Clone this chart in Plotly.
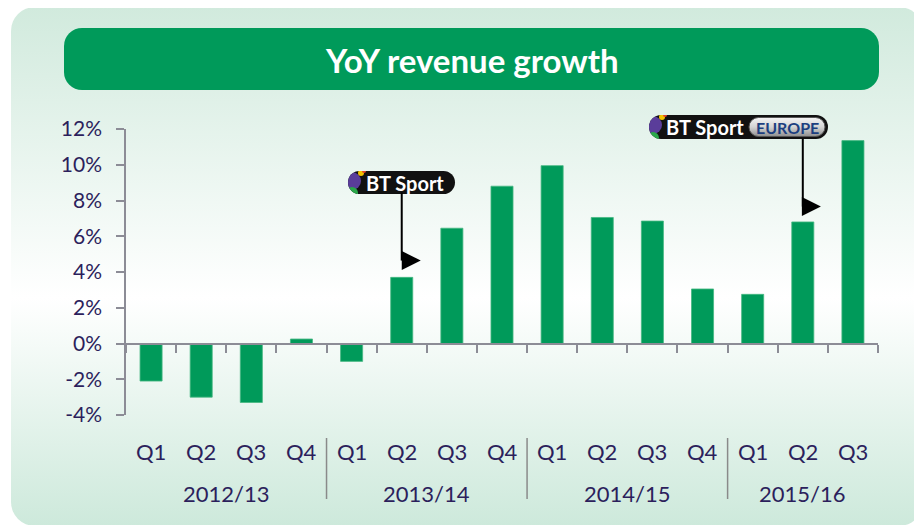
import base64
import plotly.graph_objects as go

# ---------------- data ----------------
quarters = ["Q1", "Q2", "Q3", "Q4", "Q1", "Q2", "Q3", "Q4",
            "Q1", "Q2", "Q3", "Q4", "Q1", "Q2", "Q3"]
years = ["2012/13", "2013/14", "2014/15", "2015/16"]
year_sizes = [4, 4, 4, 3]
growth = [-2.1, -3.0, -3.3, 0.25, -1.0, 3.7, 6.45, 8.8,
          9.95, 7.05, 6.85, 3.05, 2.75, 6.8, 11.35]
y_ticks = [-4, -2, 0, 2, 4, 6, 8, 10, 12]

# ---------------- geometry ----------------
W, H = 922, 525
OFF = 8  # page body margin: screen pixel = figure pixel + OFF
# plot area in screen pixels
SX0, SX1, SY0, SY1 = 126, 878, 129, 415
ML, MT = SX0 - OFF, SY0 - OFF
PW, PH = SX1 - SX0, SY1 - SY0
MR, MB = W - ML - PW, H - MT - PH


def px(x, y):
    """screen pixel -> paper coordinates"""
    return (x - SX0) / PW, (SY1 - y) / PH


GREEN = "#009a5a"
TXT = "#2c1f5c"
GREY = "#8c8c96"
FONT = "Lato"

# ---------------- background (svg, drawn in screen pixels) ----------------
svg = f'''<svg xmlns="http://www.w3.org/2000/svg" width="{W}" height="{H}" viewBox="0 0 {W} {H}">
<defs>
<linearGradient id="g" x1="0" y1="0" x2="0" y2="1">
<stop offset="0" stop-color="#d1eadd"/>
<stop offset="0.56" stop-color="#ffffff"/>
<stop offset="1" stop-color="#cde9db"/>
</linearGradient>
<linearGradient id="s" x1="0" y1="0" x2="0" y2="1">
<stop offset="0" stop-color="#f4f4f4"/>
<stop offset="0.5" stop-color="#d4d4d4"/>
<stop offset="1" stop-color="#8e8e8e"/>
</linearGradient>
<clipPath id="c1"><rect x="348" y="171" width="107" height="23" rx="11.5"/></clipPath>
<clipPath id="c2"><rect x="649" y="115" width="179" height="24" rx="12"/></clipPath>
</defs>
<g transform="translate({-OFF},{-OFF})">
<rect x="11" y="7" width="912" height="519" rx="24" fill="url(#g)"/>
<rect x="64" y="28" width="815" height="62" rx="18" fill="{GREEN}"/>
<rect x="348" y="171" width="107" height="23" rx="11.5" fill="#111"/>
<g clip-path="url(#c1)">
<circle cx="352" cy="181" r="9" fill="#5a3d9a"/>
<circle cx="361" cy="173" r="3" fill="#f2c200"/>
<circle cx="352" cy="193" r="6" fill="#2aa84a"/>
<circle cx="364" cy="171" r="2" fill="#e2452b"/>
</g>
<rect x="649" y="115" width="179" height="24" rx="12" fill="#111"/>
<g clip-path="url(#c2)">
<circle cx="653" cy="125" r="9" fill="#5a3d9a"/>
<circle cx="662" cy="117" r="3" fill="#f2c200"/>
<circle cx="653" cy="138" r="6" fill="#2aa84a"/>
<circle cx="665" cy="115" r="2" fill="#e2452b"/>
</g>
<rect x="749" y="117.5" width="76" height="19" rx="9.5" fill="url(#s)" stroke="#555" stroke-width="1"/>
</g>
</svg>'''
src = "data:image/svg+xml;base64," + base64.b64encode(svg.encode()).decode()

x_idx = list(range(len(growth)))

fig = go.Figure()
fig.add_trace(go.Bar(
    x=x_idx, y=growth,
    marker=dict(color=GREEN, line=dict(color="#45b882", width=0.8)),
    hoverinfo="skip",
))

x0, y0 = -ML / PW, (PH + MT) / PH
fig.add_layout_image(dict(
    source=src, xref="paper", yref="paper",
    x=x0, y=y0, sizex=W / PW, sizey=H / PH,
    xanchor="left", yanchor="top", sizing="stretch", layer="below",
))


def label(text, x, y, xref="paper", size=22, color=TXT):
    return dict(text=text, x=x, y=y, xref=xref, yref="paper", showarrow=False,
                xanchor="center", yanchor="middle",
                font=dict(family=FONT, size=size, color=color))


annotations = []
# title
tx, ty = px(472, 60)
annotations.append(label("<b>YoY revenue growth</b>", tx, ty, size=33, color="white"))
# quarter labels
qy = px(0, 451)[1]
for i, q in enumerate(quarters):
    annotations.append(label(q, i, qy, xref="x"))
# year labels and dividers
shapes = []
yy = px(0, 493)[1]
start = 0
for k, (yr, n) in enumerate(zip(years, year_sizes)):
    annotations.append(label(yr, start + (n - 1) / 2, yy, xref="x"))
    if k > 0:
        shapes.append(dict(type="line", xref="x", yref="paper", x0=start - 0.5, x1=start - 0.5,
                           y0=px(0, 438)[1], y1=px(0, 499)[1],
                           line=dict(color="#8a8a8a", width=1.5)))
    start += n

# badge texts
bx, by = px(405, 182.5)
annotations.append(label("<b>BT Sport</b>", bx, by, size=20, color="white"))
bx, by = px(705, 127)
annotations.append(label("<b>BT Sport</b>", bx, by, size=20, color="white"))
bx, by = px(787, 127.5)
annotations.append(label("<b>EUROPE</b>", bx, by, size=16, color="#1d3f80"))

# arrows: (bar index, top y of line in %, elbow y in %, tip offset)
arrows = [(5, 8.45, 4.64, 0.38), (13, 11.47, 7.66, 0.36)]
for xi, ytop, yel, dx in arrows:
    shapes.append(dict(type="line", xref="x", yref="y", x0=xi, x1=xi, y0=ytop, y1=yel,
                       line=dict(color="black", width=2)))
    annotations.append(dict(x=xi + dx, y=yel, ax=xi - 0.01, ay=yel, xref="x", yref="y",
                            axref="x", ayref="y", text="", showarrow=True,
                            arrowhead=2, arrowsize=1.9, arrowwidth=2, arrowcolor="black"))

fig.update_layout(
    width=W, height=H,
    margin=dict(l=ML, r=MR, t=MT, b=MB, pad=0),
    paper_bgcolor="white", plot_bgcolor="rgba(0,0,0,0)",
    showlegend=False, bargap=0.56,
    annotations=annotations, shapes=shapes,
    xaxis=dict(range=[-0.5, len(growth) - 0.5], anchor="free", position=0.25,
               showline=True, linecolor=GREY, linewidth=2,
               tickmode="array", tickvals=[i - 0.5 for i in range(len(growth) + 1)],
               ticks="outside", ticklen=8, tickwidth=1.5, tickcolor=GREY,
               showticklabels=False, showgrid=False, zeroline=False, fixedrange=True),
    yaxis=dict(range=[-4, 12], tickmode="array", tickvals=y_ticks,
               ticktext=[f"{v}%" for v in y_ticks],
               showline=True, linecolor=GREY, linewidth=1.5,
               ticks="outside", ticklen=8, tickwidth=1.5, tickcolor=GREY,
               ticklabelstandoff=10,
               tickfont=dict(family=FONT, size=21, color=TXT),
               showgrid=False, zeroline=False, fixedrange=True),
)

fig.write_html("out.html")
